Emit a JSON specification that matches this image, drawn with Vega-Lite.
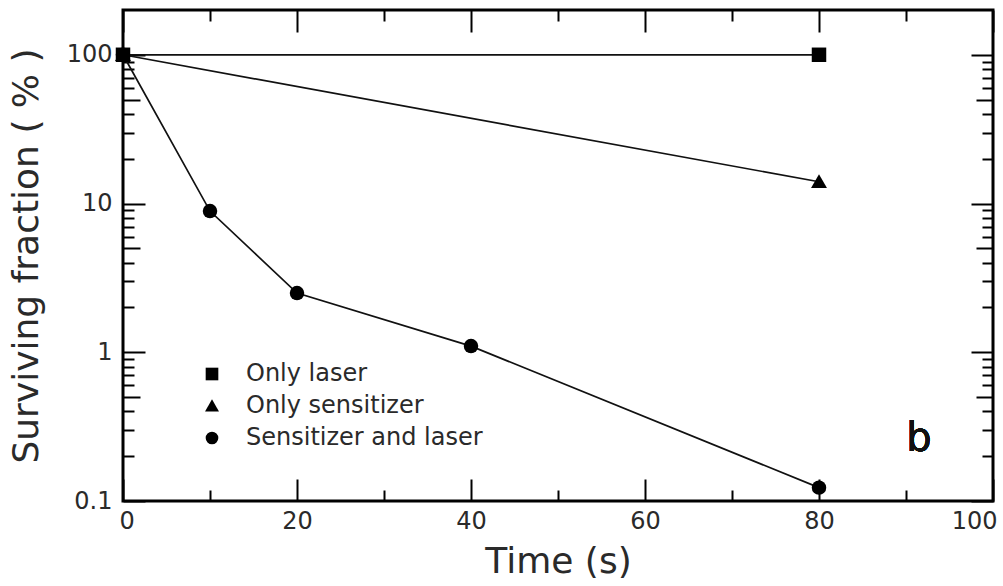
{
  "$schema": "https://vega.github.io/schema/vega-lite/v6.json",
  "width": 870,
  "height": 491,
  "autosize": "none",
  "padding": {"left": 123, "top": 10, "right": 10, "bottom": 85},
  "config": {
    "font": "DejaVu Sans",
    "view": {"stroke": "#000", "strokeWidth": 3},
    "axis": {"domain": false, "grid": false, "tickColor": "#000", "tickWidth": 2, "labelColor": "#2a2a2a", "titleColor": "#2a2a2a", "labelFontSize": 24, "titleFontSize": 36, "titleFontWeight": "normal"}
  },
  "data": {"values": [
    {"series": "Only laser", "time": 0, "pct": 100},
    {"series": "Only laser", "time": 80, "pct": 100},
    {"series": "Only sensitizer", "time": 0, "pct": 100},
    {"series": "Only sensitizer", "time": 80, "pct": 14},
    {"series": "Sensitizer and laser", "time": 0, "pct": 100},
    {"series": "Sensitizer and laser", "time": 10, "pct": 8.9},
    {"series": "Sensitizer and laser", "time": 20, "pct": 2.5},
    {"series": "Sensitizer and laser", "time": 40, "pct": 1.1},
    {"series": "Sensitizer and laser", "time": 80, "pct": 0.123}
  ]},
  "resolve": {"axis": {"x": "independent", "y": "independent"}},
  "layer": [
    {
      "mark": {"type": "line", "color": "#111", "strokeWidth": 1.7},
      "encoding": {
        "x": {"field": "time", "type": "quantitative", "scale": {"domain": [0, 100], "nice": false},
              "axis": {"orient": "bottom", "values": [0, 20, 40, 60, 80, 100], "tickSize": -22, "labelPadding": 30, "labelFlush": true, "labelFlushOffset": 4, "title": "Time (s)", "titlePadding": 11}},
        "y": {"field": "pct", "type": "quantitative", "scale": {"type": "log", "domain": [0.1, 200], "nice": false},
              "axis": {"orient": "left", "values": [0.1, 1, 10, 100], "format": "~g", "tickSize": -22, "labelPadding": 33, "title": "Surviving fraction ( % )", "titlePadding": 21}},
        "detail": {"field": "series"}
      }
    },
    {
      "mark": {"type": "point", "filled": true, "opacity": 1, "size": 210},
      "encoding": {
        "x": {"field": "time", "type": "quantitative", "axis": null},
        "y": {"field": "pct", "type": "quantitative", "axis": null},
        "shape": {"field": "series", "type": "nominal",
                  "scale": {"domain": ["Only laser", "Only sensitizer", "Sensitizer and laser"], "range": ["square", "M0,-1.05L1.1,0.85L-1.1,0.85Z", "circle"]},
                  "legend": {"title": null, "orient": "none", "legendX": 77, "legendY": 352, "padding": 0, "symbolSize": 160, "symbolFillColor": "#000", "symbolStrokeWidth": 0, "labelFontSize": 24, "labelColor": "#2a2a2a", "labelOffset": 22, "labelLimit": 500, "rowPadding": 8, "symbolOpacity": 1}},
        "color": {"value": "#000"}
      }
    },
    {
      "mark": {"type": "point", "opacity": 0},
      "encoding": {
        "x": {"field": "time", "type": "quantitative",
              "axis": {"orient": "bottom", "values": [10, 30, 50, 70, 90], "tickSize": -11, "labels": false, "title": null}},
        "y": {"field": "pct", "type": "quantitative",
              "axis": {"orient": "left", "values": [0.2, 0.3, 0.4, 0.6, 0.7, 0.8, 0.9, 2, 3, 4, 6, 7, 8, 9, 20, 30, 40, 60, 70, 80, 90], "tickSize": -11, "labels": false, "title": null}}
      }
    },
    {
      "mark": {"type": "point", "opacity": 0},
      "encoding": {
        "x": {"field": "time", "type": "quantitative",
              "axis": {"orient": "top", "values": [0, 20, 40, 60, 80, 100], "tickSize": -22, "labels": false, "title": null}},
        "y": {"field": "pct", "type": "quantitative",
              "axis": {"orient": "right", "values": [0.1, 1, 10, 100], "tickSize": -22, "labels": false, "title": null}}
      }
    },
    {
      "mark": {"type": "point", "opacity": 0},
      "encoding": {
        "x": {"field": "time", "type": "quantitative",
              "axis": {"orient": "top", "values": [10, 30, 50, 70, 90], "tickSize": -11, "labels": false, "title": null}},
        "y": {"field": "pct", "type": "quantitative",
              "axis": {"orient": "right", "values": [0.2, 0.3, 0.4, 0.6, 0.7, 0.8, 0.9, 2, 3, 4, 6, 7, 8, 9, 20, 30, 40, 60, 70, 80, 90], "tickSize": -11, "labels": false, "title": null}}
      }
    },
    {
      "mark": {"type": "point", "opacity": 0},
      "encoding": {
        "x": {"field": "time", "type": "quantitative", "axis": null},
        "y": {"field": "pct", "type": "quantitative",
              "axis": {"orient": "left", "values": [0.5, 5, 50], "tickSize": -17, "labels": false, "title": null}}
      }
    },
    {
      "mark": {"type": "point", "opacity": 0},
      "encoding": {
        "x": {"field": "time", "type": "quantitative", "axis": null},
        "y": {"field": "pct", "type": "quantitative",
              "axis": {"orient": "right", "values": [0.5, 5, 50], "tickSize": -17, "labels": false, "title": null}}
      }
    },
    {
      "mark": {"type": "text", "text": "b", "fontSize": 40, "color": "#111", "align": "center", "baseline": "middle"},
      "encoding": {
        "x": {"datum": 91.5, "type": "quantitative", "axis": null},
        "y": {"datum": 0.26, "type": "quantitative", "axis": null}
      }
    }
  ]
}
